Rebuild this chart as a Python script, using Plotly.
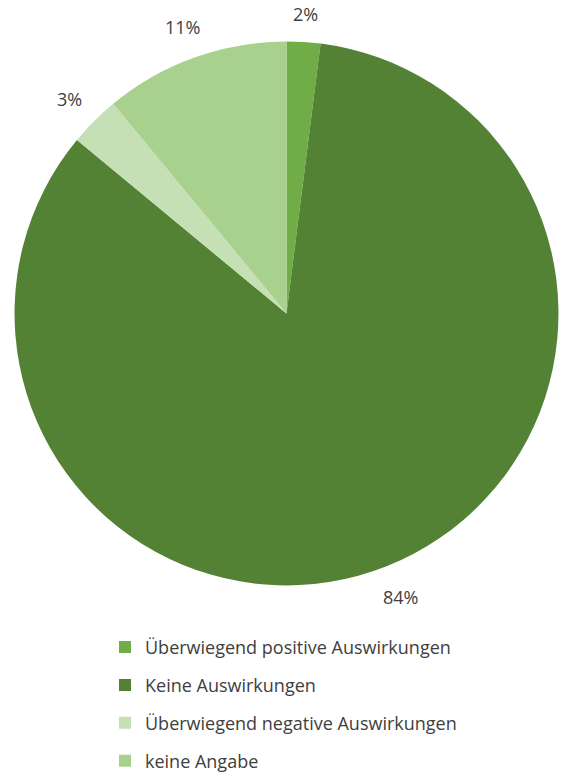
import math
import plotly.graph_objects as go

# Survey answers and their shares (percent)
categories = [
    "Überwiegend positive Auswirkungen",
    "Keine Auswirkungen",
    "Überwiegend negative Auswirkungen",
    "keine Angabe",
]
shares = [2, 84, 3, 11]
colors = ["#70AD47", "#548235", "#C5E0B4", "#A9D18E"]

W, H = 562, 780
FONT = "Open Sans"
FONT_SIZE = 18
TEXT_COLOR = "#404040"

# Pie geometry in pixels (margins are zero, so paper == page)
CX, CY, R = 286.5, 317.5, 275.5

fig = go.Figure()

fig.add_trace(go.Pie(
    labels=categories,
    values=shares,
    sort=False,
    direction="clockwise",
    rotation=0,
    marker=dict(colors=colors, line=dict(width=0)),
    textinfo="none",
    showlegend=False,
    hoverinfo="label+percent",
    domain=dict(x=[(CX - R) / W, min(1.0, (CX + R) / W)],
                y=[1 - (CY + R) / H, 1 - (CY - R) / H]),
))

# Percentage labels placed just outside each slice, at the slice's mid-angle
total = sum(shares)
start = 0.0
annotations = []
for v in shares:
    frac = v / total
    mid = (start + frac / 2) * 2 * math.pi
    start += frac
    s, c = math.sin(mid), math.cos(mid)
    txt = f"{round(frac * 100)}%"
    half_w = 6.5 * len(txt) - 4
    half_h = 10
    d = R + 18 + half_w * abs(s) + half_h * abs(c)
    px, py = CX + d * s, CY - d * c
    annotations.append(dict(
        x=px / W, y=1 - py / H, xref="paper", yref="paper",
        text=txt, showarrow=False, xanchor="center", yanchor="middle",
        font=dict(family=FONT, size=FONT_SIZE, color=TEXT_COLOR),
    ))

# Legend entries: one marker-only trace per category so each row can be spaced
for name, col in zip(categories, colors):
    fig.add_trace(go.Scatter(
        x=[None], y=[None],
        mode="markers",
        name=name,
        legendgroup=name,
        marker=dict(symbol="square", size=12, color=col),
        hoverinfo="skip",
    ))

fig.update_layout(
    width=W,
    height=H,
    margin=dict(l=0, r=0, t=0, b=0),
    paper_bgcolor="white",
    plot_bgcolor="white",
    xaxis=dict(visible=False),
    yaxis=dict(visible=False),
    font=dict(family=FONT, color=TEXT_COLOR),
    annotations=annotations,
    legend=dict(
        x=105 / W, xanchor="left",
        y=1 - 637 / H, yanchor="top",
        orientation="v",
        font=dict(family=FONT, size=FONT_SIZE, color=TEXT_COLOR),
        tracegroupgap=11.5,
        bgcolor="rgba(0,0,0,0)",
    ),
)

fig.write_html("out.html")
